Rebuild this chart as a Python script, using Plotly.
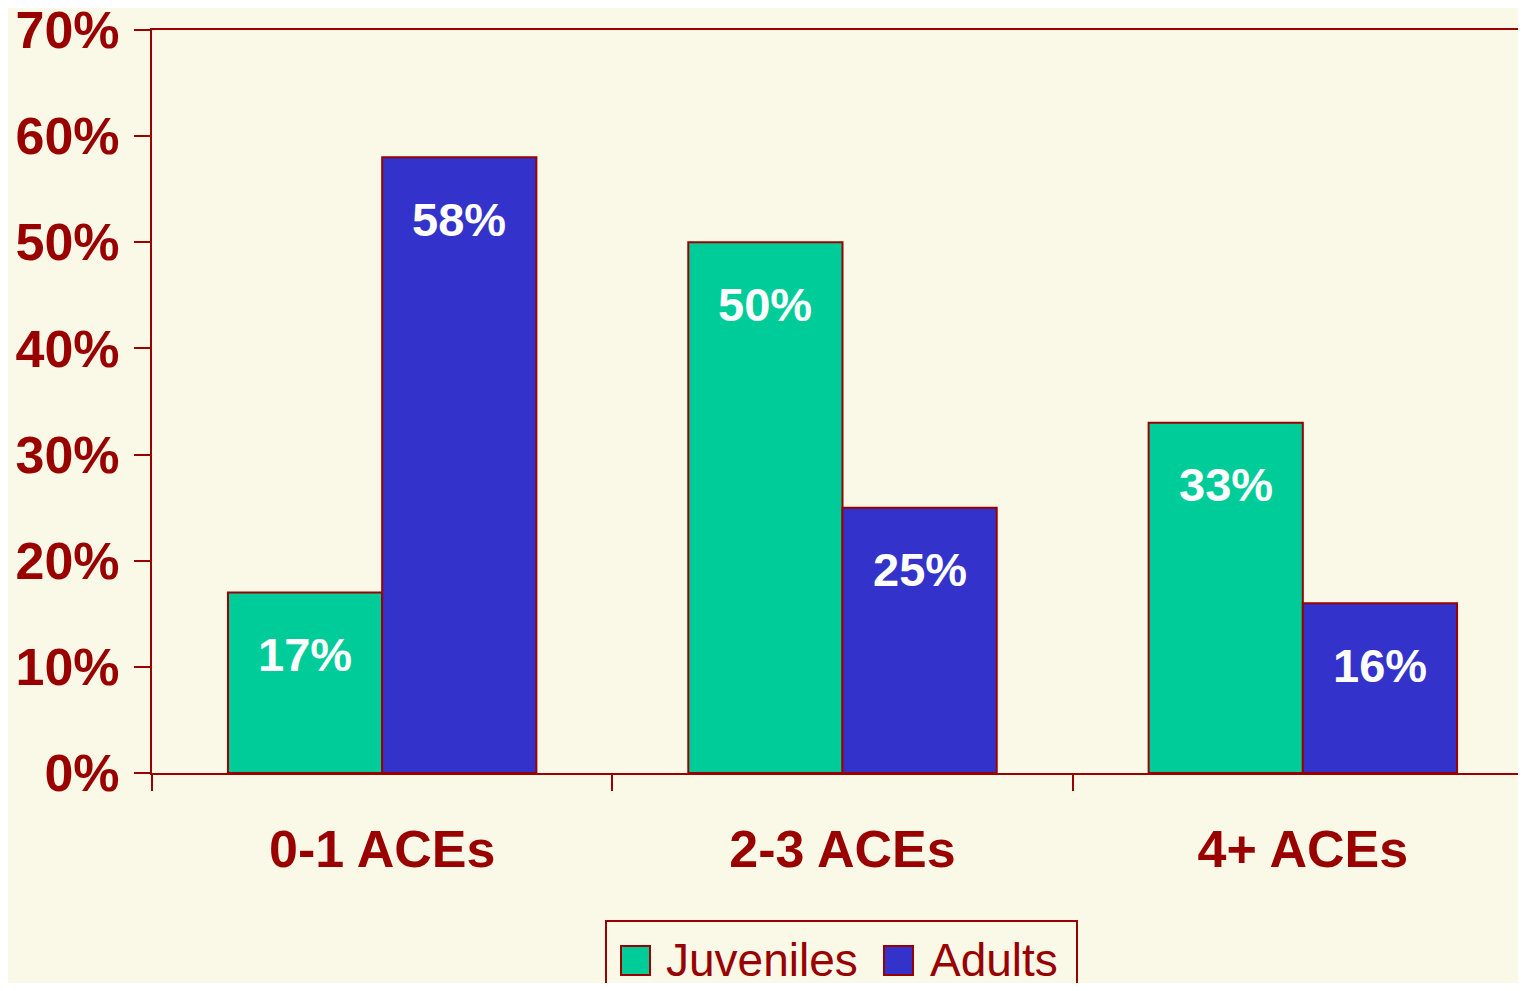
import plotly.graph_objects as go

categories = ["0-1 ACEs", "2-3 ACEs", "4+ ACEs"]
series_names = ["Juveniles", "Adults"]
juveniles = [17, 50, 33]
adults = [58, 25, 16]
y_ticks = [0, 10, 20, 30, 40, 50, 60, 70]

BG = "#FAF8E6"
RED = "#990000"
COLORS = ["#00CC99", "#3333CC"]
FONT = "Liberation Sans, Arial, sans-serif"

# the page places the figure 8px in from the window's edges
OFF = 8
WIN_W, WIN_H = 1526, 991
W, H = WIN_W - 2 * OFF, WIN_H - 2 * OFF
# plot-area edges in window pixels
PL, PT, PB = 152, 30, 773
PR = OFF + W
L, T = PL - OFF, PT - OFF
B = OFF + H - PB
R = 0
BARGAP = 0.33

fig = go.Figure()
for name, vals, col in zip(series_names, [juveniles, adults], COLORS):
    fig.add_trace(go.Bar(
        x=categories, y=vals, name=name,
        marker=dict(color=col, line=dict(color=RED, width=2)),
        showlegend=False, hoverinfo="x+y+name",
    ))

# data labels inside the top of each bar
bar_w = (1 - BARGAP) / len(series_names)
for s, vals in enumerate([juveniles, adults]):
    off = -(1 - BARGAP) / 2 + bar_w * (s + 0.5)
    for i, v in enumerate(vals):
        fig.add_annotation(
            x=i + off, y=v, xref="x", yref="y", text=f"{v}%",
            showarrow=False, yanchor="middle", yshift=-62,
            font=dict(family=FONT, size=47, color="white", weight="bold"),
        )

# manual legend (big swatches); coordinates given in window pixels
pw, ph = PR - PL, PB - PT
def px(x):
    return (x - PL) / pw
def py(y):
    return (PB - y) / ph

fig.add_shape(type="rect", xref="paper", yref="paper",
              x0=px(606), x1=px(1077), y0=py(921), y1=py(1010),
              line=dict(color=RED, width=2), fillcolor="rgba(0,0,0,0)")
sw_x = [621, 884]
txt_x = [664, 928]
for name, col, sx, tx in zip(series_names, COLORS, sw_x, txt_x):
    fig.add_shape(type="rect", xref="paper", yref="paper",
                  x0=px(sx), x1=px(sx + 29), y0=py(946), y1=py(975),
                  line=dict(color=RED, width=2), fillcolor=col)
    fig.add_annotation(x=px(tx), y=py(960), xref="paper", yref="paper",
                       text=name, showarrow=False, xanchor="left", yanchor="middle",
                       font=dict(family=FONT, size=46, color=RED))

x_max = -0.5 + pw / ((1533 - 152) / 3)

fig.update_layout(
    width=W, height=H,
    margin=dict(l=L, r=R, t=T, b=B, pad=0, autoexpand=False),
    paper_bgcolor=BG, plot_bgcolor=BG,
    barmode="group", bargap=BARGAP, bargroupgap=0,
    showlegend=False,
    xaxis=dict(
        range=[-0.5, x_max], showline=True, linecolor=RED, linewidth=2,
        mirror=True, ticks="outside", tickson="boundaries", ticklen=16,
        tickwidth=2, tickcolor=RED, showgrid=False, zeroline=False,
        ticklabelstandoff=30, automargin=False,
        tickfont=dict(family=FONT, size=52, color=RED, weight="bold"),
    ),
    yaxis=dict(
        range=[0, 70], tickvals=y_ticks, ticktext=[f"{v}%" for v in y_ticks],
        showline=True, linecolor=RED, linewidth=2, ticks="outside",
        ticklen=16, tickwidth=2, tickcolor=RED, showgrid=False, zeroline=False,
        ticklabelstandoff=4, ticklabeloverflow="allow", automargin=False,
        tickfont=dict(family=FONT, size=52, color=RED, weight="bold"),
    ),
)

fig.write_html("out.html")
